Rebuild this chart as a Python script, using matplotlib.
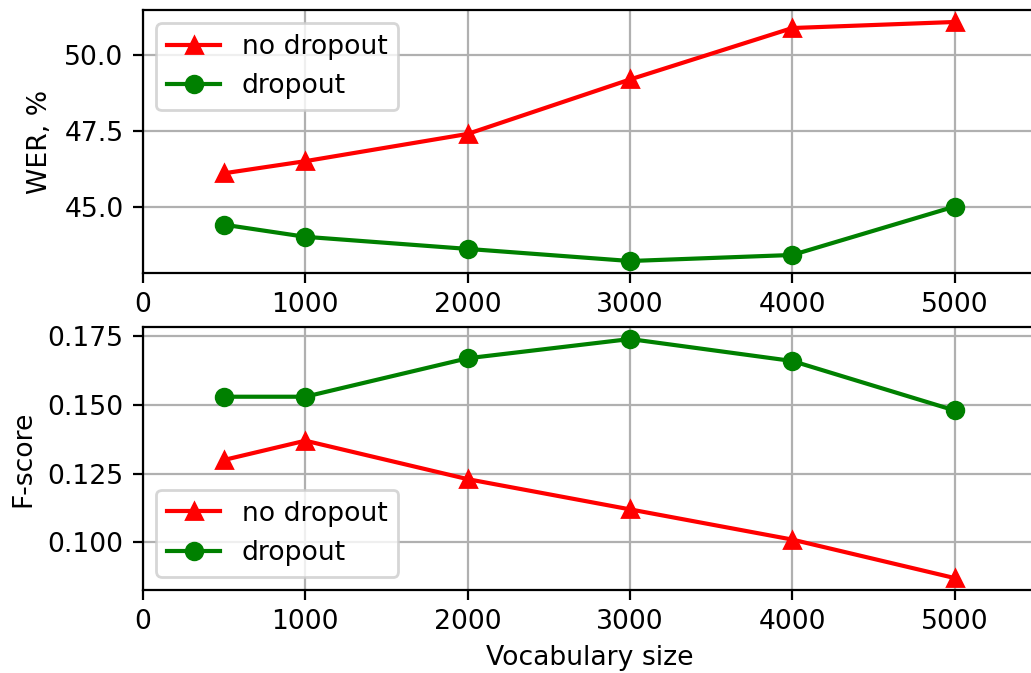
import matplotlib
matplotlib.use("Agg")
import matplotlib.pyplot as plt

vocab = [500, 1000, 2000, 3000, 4000, 5000]
wer_no_dropout = [46.1, 46.5, 47.4, 49.2, 50.9, 51.1]
wer_dropout = [44.4, 44.0, 43.6, 43.2, 43.4, 45.0]
f_no_dropout = [0.130, 0.137, 0.123, 0.112, 0.101, 0.087]
f_dropout = [0.153, 0.153, 0.167, 0.174, 0.166, 0.148]

plt.rcParams['font.family'] = ['DejaVu Sans']
plt.rcParams['font.size'] = 9.6

fig = plt.figure(figsize=(1031 / 200, 673 / 200), dpi=200)
ax1 = fig.add_axes([0.1387, 0.5944, 0.866, 0.3907])
ax2 = fig.add_axes([0.1387, 0.1233, 0.866, 0.3907])

ax1.plot(vocab, wer_no_dropout, color='red', marker='^', linewidth=1.5, markersize=6, label='no dropout')
ax1.plot(vocab, wer_dropout, color='green', marker='o', linewidth=1.5, markersize=6, label='dropout')
ax1.set_ylabel('WER, %')
ax1.set_xlim(0, 5500)
ax1.set_xticks([0, 1000, 2000, 3000, 4000, 5000])
ax1.set_yticks([45.0, 47.5, 50.0])
ax1.grid(True, color='#b0b0b0', linewidth=0.8)
ax1.legend(loc='upper left')

ax2.plot(vocab, f_no_dropout, color='red', marker='^', linewidth=1.5, markersize=6, label='no dropout')
ax2.plot(vocab, f_dropout, color='green', marker='o', linewidth=1.5, markersize=6, label='dropout')
ax2.set_ylabel('F-score')
ax2.set_xlabel('Vocabulary size', labelpad=3.5)
ax2.set_xlim(0, 5500)
ax2.set_xticks([0, 1000, 2000, 3000, 4000, 5000])
ax2.set_yticks([0.100, 0.125, 0.150, 0.175])
ax2.grid(True, color='#b0b0b0', linewidth=0.8)
ax2.legend(loc='lower left')

fig.savefig('out.png', dpi=200)
